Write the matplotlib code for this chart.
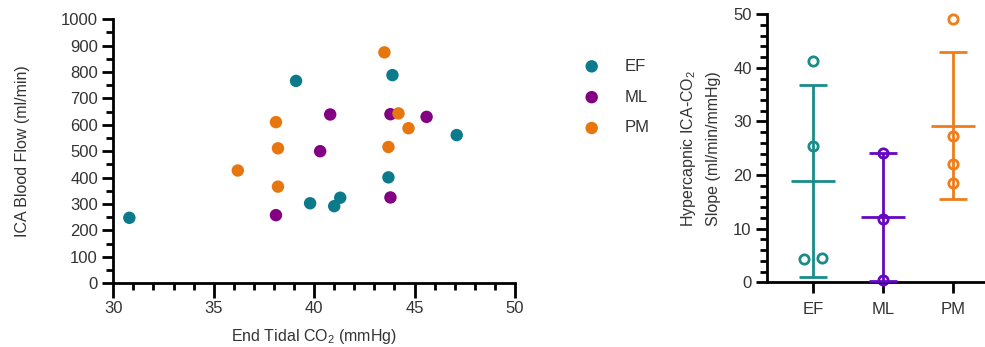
import numpy as np
import matplotlib
matplotlib.use("Agg")
import matplotlib.pyplot as plt
from matplotlib.ticker import MultipleLocator

plt.rcParams['font.family'] = ['Liberation Sans', 'DejaVu Sans']
plt.rcParams['mathtext.fontset'] = 'custom'
plt.rcParams['mathtext.rm'] = 'Liberation Sans'

# scatter: end tidal CO2 vs ICA blood flow, per subject
ef_co2 = [30.8, 39.1, 43.9, 47.1, 43.7, 39.8, 41.0, 41.3]
ef_flow = [248, 766, 788, 561, 401, 303, 292, 324]
ml_co2 = [38.1, 40.8, 40.3, 43.8, 45.6, 43.8]
ml_flow = [258, 639, 500, 640, 630, 325]
pm_co2 = [43.5, 38.1, 38.2, 36.2, 38.2, 44.2, 44.7, 43.7]
pm_flow = [874, 610, 511, 427, 366, 643, 587, 516]

# hypercapnic slopes per group
groups = ['EF', 'ML', 'PM']
slopes = {
    'EF': [41.3, 25.5, 4.3, 4.5],
    'ML': [24.2, 11.8, 0.4],
    'PM': [49.1, 27.2, 22.0, 18.5],
}
jitter = {'EF': [0, 0, -0.13, 0.13], 'ML': [0, 0, 0], 'PM': [0, 0, 0, 0]}

scatter_colors = ['#0b7b8c', '#830083', '#e8760e']
slope_colors = {'EF': '#1a8c8a', 'ML': '#6508c0', 'PM': '#ee7d1a'}
text_col = '#333333'

fig = plt.figure(figsize=(9.85, 3.47), dpi=100)

ax = fig.add_axes([0.1150, 0.1835, 0.4078, 0.7615])
for x, y, c, lab in zip([ef_co2, ml_co2, pm_co2], [ef_flow, ml_flow, pm_flow],
                        scatter_colors, groups):
    ax.scatter(x, y, s=80, color=c, edgecolors='none', label=lab, clip_on=False, zorder=3)
ax.set_xlim(30, 50)
ax.set_ylim(0, 1000)
ax.xaxis.set_major_locator(MultipleLocator(5))
ax.xaxis.set_minor_locator(MultipleLocator(1))
ax.yaxis.set_major_locator(MultipleLocator(100))
ax.yaxis.set_minor_locator(MultipleLocator(50))
ax.set_xlabel('End Tidal CO$_2$ (mmHg)', fontsize=11.5, color=text_col, labelpad=8)
ax.set_ylabel('ICA Blood Flow (ml/min)', fontsize=11.5, color=text_col, labelpad=22)

leg = ax.legend(loc='upper left', bbox_to_anchor=(0.577, 0.85), bbox_transform=fig.transFigure,
                frameon=False, fontsize=12, labelspacing=0.95, handletextpad=1.0,
                markerscale=1.0, borderaxespad=0)
for t in leg.get_texts():
    t.set_color(text_col)

ax2 = fig.add_axes([0.7787, 0.1865, 0.2213, 0.7723])
for i, g in enumerate(groups):
    vals = np.array(slopes[g])
    c = slope_colors[g]
    m = vals.mean()
    sd = vals.std(ddof=1)
    ax2.scatter(i + np.array(jitter[g]), vals, s=45, facecolors='white', edgecolors=c,
                linewidths=2, zorder=2, clip_on=False)
    ax2.errorbar(i, m, yerr=sd, color=c, capsize=10, capthick=2, elinewidth=2, zorder=3)
    ax2.hlines(m, i - 0.32, i + 0.32, color=c, lw=2, zorder=3)
ax2.set_xlim(-0.66, 2.46)
ax2.set_ylim(0, 50)
ax2.set_xticks(range(len(groups)))
ax2.set_xticklabels(groups)
ax2.yaxis.set_major_locator(MultipleLocator(10))
ax2.yaxis.set_minor_locator(MultipleLocator(2))
ax2.set_ylabel('Hypercapnic ICA-CO$_2$\nSlope (ml/min/mmHg)', fontsize=11.5,
               color=text_col, labelpad=9, linespacing=1.6)

for a in (ax, ax2):
    for side in ('top', 'right'):
        a.spines[side].set_visible(False)
    for side in ('left', 'bottom'):
        a.spines[side].set_linewidth(2)
    a.tick_params(which='major', length=8, width=2, labelsize=12, labelcolor=text_col, pad=3)
    a.tick_params(which='minor', length=5, width=2)
ax.tick_params(axis='x', which='major', length=11, pad=2)
ax2.tick_params(axis='x', which='major', length=8, pad=6)
ax2.tick_params(axis='x', which='minor', length=0)

fig.savefig('out.png', dpi=100)
